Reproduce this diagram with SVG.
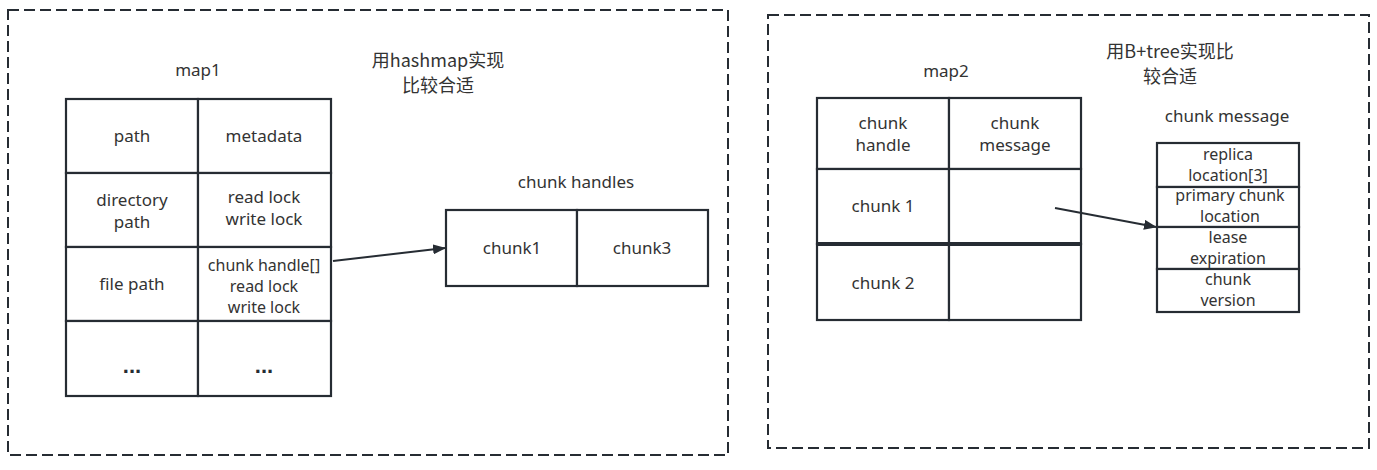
<svg xmlns="http://www.w3.org/2000/svg" width="1377" height="470" viewBox="0 0 1377 470">
<style>
.bg{fill:#ffffff}
.dash{fill:none;stroke:#262c33;stroke-width:2;stroke-dasharray:11 5}
.cell{fill:#ffffff;stroke:#262c33;stroke-width:2.2}
.t{font-family:"Noto Sans","Open Sans","Liberation Sans",sans-serif;font-size:17px;fill:#333333;text-anchor:middle}
.s{font-size:16px}
.cj{font-family:"Noto Sans CJK SC","Noto Sans",sans-serif;font-size:18px;fill:#333333;text-anchor:middle}
.dots{font-family:"Liberation Sans",sans-serif;font-size:22px;font-weight:bold;fill:#262c33;text-anchor:middle}
.conn{stroke:#262c33;stroke-width:2;fill:none}
</style>
<defs>
<marker id="arr" markerWidth="13" markerHeight="10" refX="12" refY="5" orient="auto" markerUnits="userSpaceOnUse">
<path d="M0,0 L13,5 L0,10 Z" fill="#262c33"/>
</marker>
</defs>
<rect class="bg" x="0" y="0" width="1377" height="470"/>
<g id="frame1"><rect class="dash" x="8" y="10" width="720" height="445"/></g>
<g id="frame2"><rect class="dash" x="768" y="15" width="601" height="433"/></g>

<g id="map1-title"><text class="t" x="198" y="76">map1</text></g>
<g id="note1"><text class="cj" x="438" y="67">用hashmap实现</text><text class="cj" x="438" y="92">比较合适</text></g>

<g id="map1">
<rect class="cell" x="66" y="99" width="132" height="74"/>
<rect class="cell" x="198" y="99" width="133" height="74"/>
<rect class="cell" x="66" y="173" width="132" height="74"/>
<rect class="cell" x="198" y="173" width="133" height="74"/>
<rect class="cell" x="66" y="247" width="132" height="74"/>
<rect class="cell" x="198" y="247" width="133" height="74"/>
<rect class="cell" x="66" y="321" width="132" height="75"/>
<rect class="cell" x="198" y="321" width="133" height="75"/>
<text class="t" x="132" y="142">path</text>
<text class="t" x="264" y="142">metadata</text>
<text class="t" x="132" y="206">directory</text>
<text class="t" x="132" y="228">path</text>
<text class="t" x="264" y="203">read lock</text>
<text class="t" x="264" y="225">write lock</text>
<text class="t" x="132" y="290">file path</text>
<text class="t s" x="264" y="271">chunk handle[]</text>
<text class="t s" x="264" y="292">read lock</text>
<text class="t s" x="264" y="313">write lock</text>
<text class="dots" x="132" y="373">...</text>
<text class="dots" x="264" y="373">...</text>
</g>

<g id="chunk-handles">
<text class="t" x="576" y="188">chunk handles</text>
<rect class="cell" x="446" y="210" width="131" height="76"/>
<rect class="cell" x="577" y="210" width="131" height="76"/>
<text class="t" x="512" y="254">chunk1</text>
<text class="t" x="642" y="254">chunk3</text>
</g>

<g id="map2-title"><text class="t" x="946" y="77">map2</text></g>
<g id="note2"><text class="cj" x="1170" y="58">用B+tree实现比</text><text class="cj" x="1170" y="83">较合适</text></g>

<g id="map2">
<rect class="cell" x="817" y="98" width="132" height="71"/>
<rect class="cell" x="949" y="98" width="132" height="71"/>
<rect class="cell" x="817" y="169" width="132" height="75"/>
<rect class="cell" x="949" y="169" width="132" height="75"/>
<rect class="cell" x="817" y="244" width="132" height="76"/>
<rect class="cell" x="949" y="244" width="132" height="76"/>
<line x1="817" y1="244" x2="1081" y2="244" stroke="#262c33" stroke-width="4"/>
<text class="t" x="883" y="129">chunk</text>
<text class="t" x="883" y="151">handle</text>
<text class="t" x="1015" y="129">chunk</text>
<text class="t" x="1015" y="151">message</text>
<text class="t" x="883" y="212">chunk 1</text>
<text class="t" x="883" y="289">chunk 2</text>
</g>

<g id="chunk-message">
<text class="t" x="1227" y="122">chunk message</text>
<rect class="cell" x="1157" y="143" width="142" height="44"/>
<rect class="cell" x="1157" y="187" width="142" height="40"/>
<rect class="cell" x="1157" y="227" width="142" height="42"/>
<rect class="cell" x="1157" y="269" width="142" height="43"/>
<text class="t s" x="1228" y="160">replica</text>
<text class="t s" x="1228" y="181">location[3]</text>
<text class="t s" x="1230" y="201">primary chunk</text>
<text class="t s" x="1230" y="222">location</text>
<text class="t s" x="1228" y="243">lease</text>
<text class="t s" x="1228" y="264">expiration</text>
<text class="t s" x="1228" y="285">chunk</text>
<text class="t s" x="1228" y="306">version</text>
</g>

<g id="connectors">
<line class="conn" x1="333" y1="261" x2="445" y2="248" marker-end="url(#arr)"/>
<line class="conn" x1="1055" y1="208" x2="1156" y2="227" marker-end="url(#arr)"/>
</g>
</svg>
